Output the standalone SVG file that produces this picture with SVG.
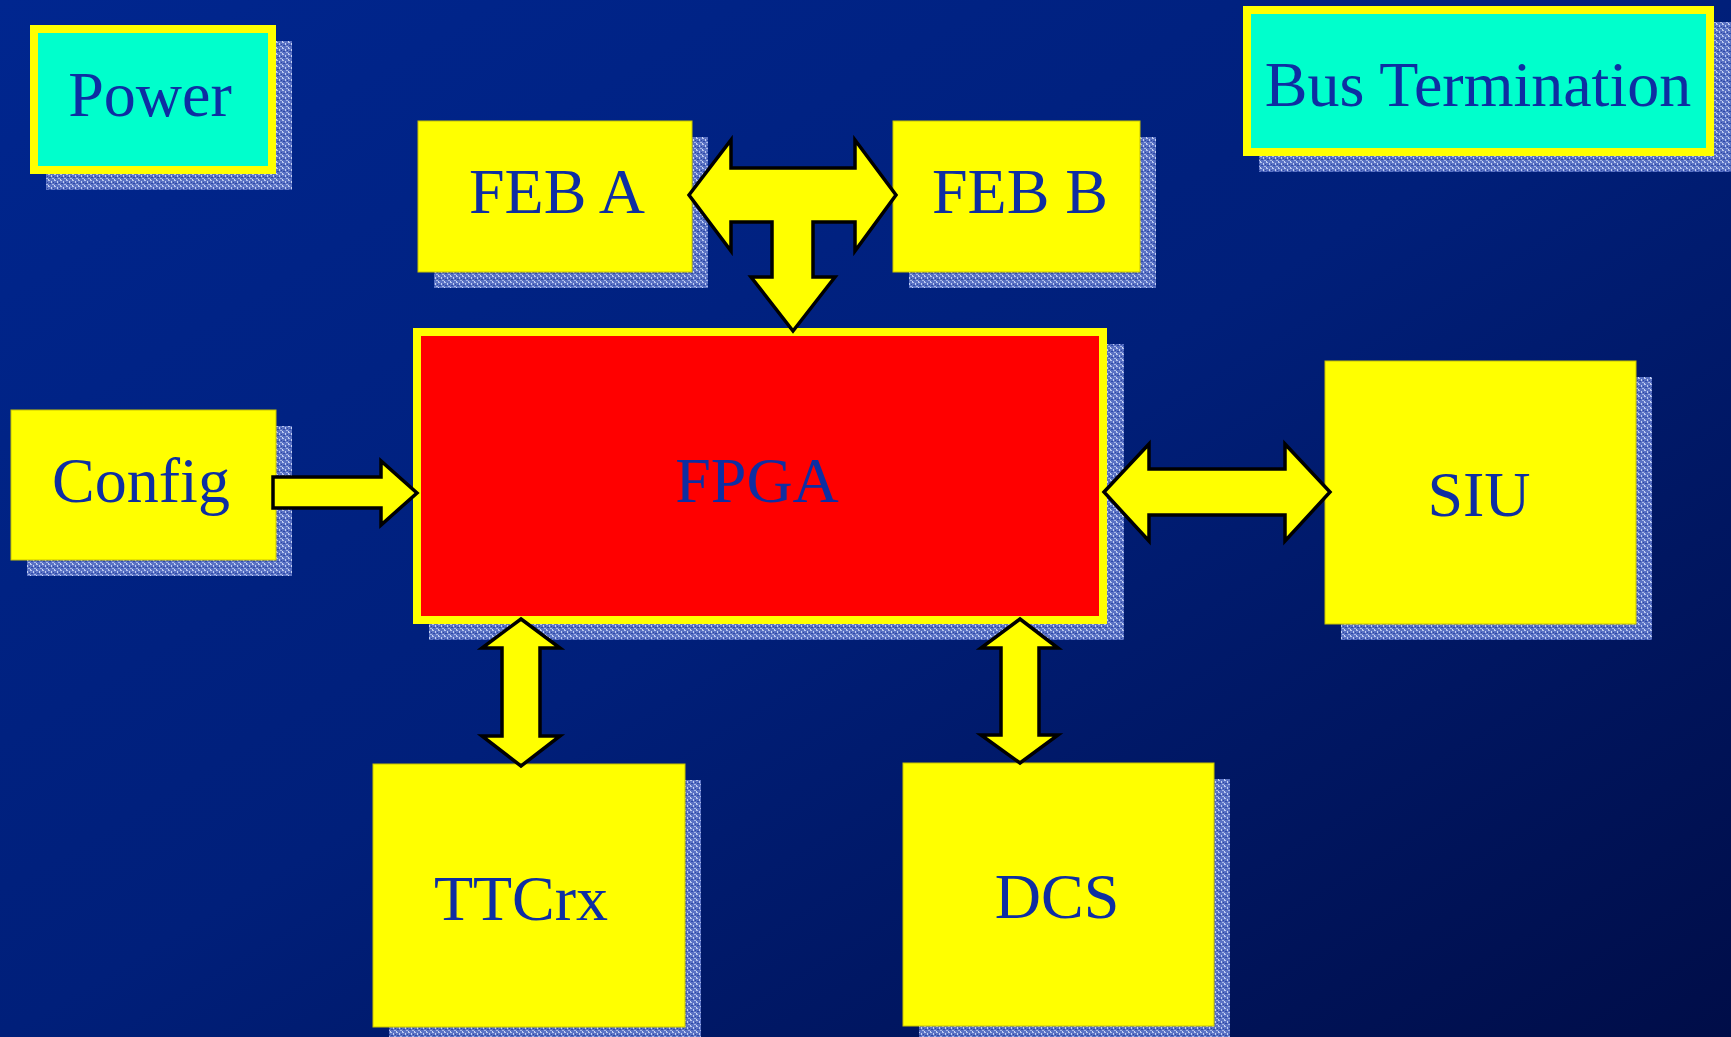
<svg xmlns="http://www.w3.org/2000/svg" width="1731" height="1037" viewBox="0 0 1731 1037">
<defs>
<linearGradient id="bg" x1="0" y1="0" x2="1" y2="1">
<stop offset="0" stop-color="#00268f"/>
<stop offset="0.5" stop-color="#001f7a"/>
<stop offset="1" stop-color="#000d48"/>
</linearGradient>
<pattern id="speckle" width="6" height="6" patternUnits="userSpaceOnUse">
<rect width="6" height="6" fill="#5a72c4"/>
<rect x="0" y="0" width="2" height="1" fill="#b8c6ee"/>
<rect x="3" y="1" width="1" height="2" fill="#c4d0f2"/>
<rect x="1" y="3" width="2" height="1" fill="#2e4aa8"/>
<rect x="4" y="4" width="2" height="1" fill="#a8b8e8"/>
<rect x="0" y="5" width="1" height="1" fill="#d0dbf6"/>
<rect x="5" y="2" width="1" height="1" fill="#2a44a0"/>
</pattern>
<style>
.shadow{fill:url(#speckle);}
.box{fill:#ffff00;stroke:#c9c400;stroke-width:1;}
.frame{fill:#ffff00;}
.cyan{fill:#00ffcc;}
.red{fill:#ff0000;}
.label{font-family:"Liberation Serif","Times New Roman",serif;font-size:64px;fill:#0e2ea2;text-anchor:middle;}
.arrow{fill:#ffff00;stroke:#000000;stroke-width:3.5;stroke-linejoin:miter;}
</style>
</defs>
<rect x="0" y="0" width="1731" height="1037" fill="url(#bg)"/>

<g id="power">
<rect class="shadow" x="46" y="41" width="246" height="149"/>
<rect class="frame" x="30" y="25" width="246" height="149"/>
<rect class="cyan" x="38" y="33" width="230" height="133"/>
<text class="label" x="150" y="116">Power</text>
</g>

<g id="bus-termination">
<rect class="shadow" x="1259" y="22" width="472" height="150"/>
<rect class="frame" x="1243" y="6" width="471" height="150"/>
<rect class="cyan" x="1251" y="14" width="455" height="134"/>
<text class="label" x="1478" y="106">Bus Termination</text>
</g>

<g id="feb-a">
<rect class="shadow" x="434" y="137" width="274" height="151"/>
<rect class="box" x="418" y="121" width="274" height="151"/>
<text class="label" x="557" y="213">FEB A</text>
</g>

<g id="feb-b">
<rect class="shadow" x="909" y="137" width="247" height="151"/>
<rect class="box" x="893" y="121" width="247" height="151"/>
<text class="label" x="1020" y="213">FEB B</text>
</g>

<g id="fpga">
<rect class="shadow" x="429" y="344" width="695" height="296"/>
<rect class="frame" x="413" y="328" width="694" height="296"/>
<rect class="red" x="421" y="336" width="678" height="280"/>
<text class="label" x="757" y="502">FPGA</text>
</g>

<g id="config">
<rect class="shadow" x="27" y="426" width="265" height="150"/>
<rect class="box" x="11" y="410" width="265" height="150"/>
<text class="label" x="141" y="502">Config</text>
</g>

<g id="siu">
<rect class="shadow" x="1341" y="377" width="311" height="263"/>
<rect class="box" x="1325" y="361" width="311" height="263"/>
<text class="label" x="1479" y="516">SIU</text>
</g>

<g id="ttcrx">
<rect class="shadow" x="389" y="780" width="312" height="263"/>
<rect class="box" x="373" y="764" width="312" height="263"/>
<text class="label" x="521" y="920">TTCrx</text>
</g>

<g id="dcs">
<rect class="shadow" x="919" y="779" width="311" height="263"/>
<rect class="box" x="903" y="763" width="311" height="263"/>
<text class="label" x="1057" y="918">DCS</text>
</g>

<g id="connectors">
<path class="arrow" d="M689,195 L731,140 L731,168 L855,168 L855,140 L896,195 L855,251 L855,222 L813,222 L813,277 L835,277 L793,331 L751,277 L772,277 L772,222 L731,222 L731,251 Z"/>
<path class="arrow" d="M273,477 L381,477 L381,461 L417,493 L381,525 L381,508 L273,508 Z"/>
<path class="arrow" d="M1104,492 L1149,444 L1149,469 L1285,469 L1285,444 L1330,492 L1285,541 L1285,515 L1149,515 L1149,541 Z"/>
<path class="arrow" d="M521,619 L560,648 L540,648 L540,736 L560,736 L521,766 L482,736 L502,736 L502,648 L482,648 Z"/>
<path class="arrow" d="M1020,619 L1058,648 L1039,648 L1039,735 L1058,735 L1020,763 L981,735 L1001,735 L1001,648 L981,648 Z"/>
</g>
</svg>
